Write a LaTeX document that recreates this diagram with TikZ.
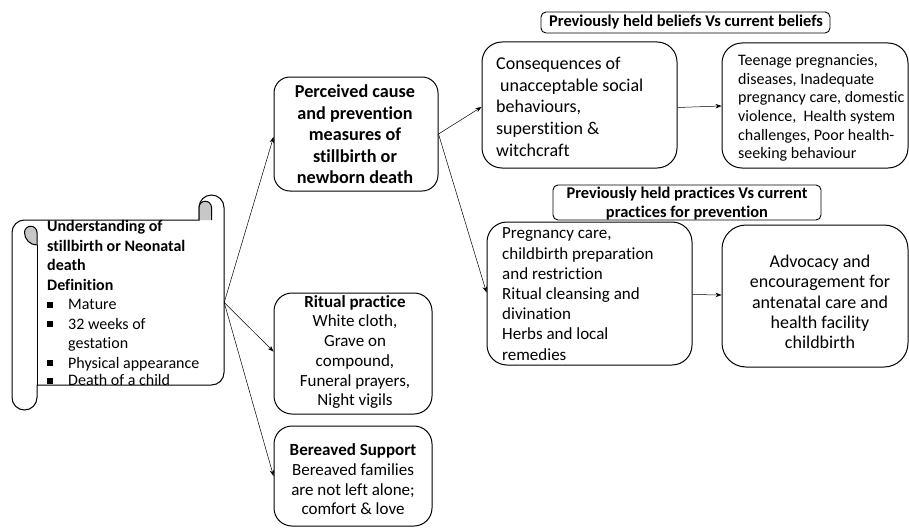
\documentclass[tikz,border=0pt]{standalone}
\usepackage{fontspec}
\setmainfont{Carlito}[Ligatures=NoCommon]
\usetikzlibrary{arrows.meta}
\newcommand{\sqbul}{\makebox[21pt][l]{\raisebox{2pt}{\rule{6pt}{6pt}}}}
\begin{document}
\begin{tikzpicture}[x=1pt,y=1pt,
  box/.style={draw=black, line width=1pt, rounded corners=18pt, inner sep=0pt},
  hdr/.style={draw=black, line width=0.9pt, rounded corners=5pt, inner sep=0pt},
  txt/.style={inner sep=0pt},
  arr/.style={-{Stealth[length=6pt,width=4.5pt]}, line width=0.5pt},
]
\useasboundingbox (0,0) rectangle (909,-527);

% ---------- scroll ----------
\node[minimum width=212pt, minimum height=215pt, inner sep=0pt] (scroll) at (118,-302.5) {};
\draw[line width=1pt, fill=white]
  (12,-232.5) arc[start angle=180, end angle=90, radius=12.5pt]
  -- (199,-220) -- (199,-207.5)
  arc[start angle=180, end angle=0, radius=12.5pt]
  -- (224,-372.5)
  arc[start angle=0, end angle=-90, radius=12.5pt]
  -- (37,-385) -- (37,-397.5)
  arc[start angle=0, end angle=-180, radius=12.5pt]
  -- cycle;
\draw[line width=1pt, fill=black!22]
  (199,-220) -- (199,-207.5)
  arc[start angle=180, end angle=0, radius=6.25pt]
  -- (211.5,-220);
\draw[line width=1pt, fill=black!22]
  (37,-245) -- (37,-232.5)
  arc[start angle=0, end angle=180, radius=6.25pt]
  arc[start angle=180, end angle=270, radius=12.5pt];
\draw[line width=1pt] (37,-245) -- (37,-385);
\node[txt, anchor=north west, font=\fontsize{16}{19.5}\selectfont] (scrolltxt) at (47,-218)
  {\begin{tabular}{@{}l@{}}
   \textbf{Understanding of}\\\textbf{stillbirth or Neonatal}\\\textbf{death}\\\textbf{Definition}\\
   \sqbul Mature\\
   \sqbul 32 weeks of\\
   \makebox[21pt][l]{}gestation\\
   \sqbul Physical appearance\\[-2pt]
   \sqbul Death of a child
   \end{tabular}};

% ---------- middle column ----------
\node[box, rounded corners=16pt, minimum width=164pt, minimum height=114pt] (perc) at (356,-134) {};
\node[txt, align=center, font=\fontsize{18.2}{21.5}\selectfont\bfseries] (perct) at (355,-134.5)
  {Perceived cause\\and prevention\\measures of\\stillbirth or\\newborn death};

\node[box, minimum width=158pt, minimum height=121pt] (rit) at (353,-353.5) {};
\node[txt, align=center, font=\fontsize{17}{19.7}\selectfont] (ritt) at (355,-352)
  {\textbf{Ritual practice}\\White cloth,\\Grave on\\compound,\\Funeral prayers,\\Night vigils};

\node[box, minimum width=158pt, minimum height=100pt] (ber) at (353,-476) {};
\node[txt, align=center, font=\fontsize{17}{19.7}\selectfont] (bert) at (353,-479.5)
  {\textbf{Bereaved Support}\\Bereaved families\\are not left alone;\\comfort \& love};

% ---------- right part ----------
\node[hdr, minimum width=289pt, minimum height=21pt] (h1) at (685.5,-22.5) {};
\node[txt, font=\fontsize{16.4}{19}\selectfont\bfseries] (h1t) at (686,-22.5)
  {Previously held beliefs Vs current beliefs};

\node[box, rounded corners=20pt, minimum width=195pt, minimum height=126pt] (cons) at (579.5,-105) {};
\node[txt, anchor=west, font=\fontsize{18}{21.7}\selectfont] (const) at (496,-108.5)
  {\begin{tabular}{@{}l@{}}Consequences of\\\hspace*{4pt}unacceptable social\\behaviours,\\superstition \&\\witchcraft\end{tabular}};

\node[box, rounded corners=20pt, minimum width=186pt, minimum height=125pt] (teen) at (815,-105.5) {};
\node[txt, anchor=west, font=\fontsize{16}{18.7}\selectfont] (teent) at (738,-108.5)
  {\begin{tabular}{@{}l@{}}Teenage pregnancies,\\diseases, Inadequate\\pregnancy care, domestic\\violence,\ \ Health system\\challenges, Poor health-\\seeking behaviour\end{tabular}};

\node[hdr, minimum width=268pt, minimum height=35pt] (h2) at (687,-202.5) {};
\node[txt, align=center, font=\fontsize{16.4}{19}\selectfont\bfseries] (h2t) at (687,-203.5)
  {Previously held practices Vs current\\practices for prevention};

\node[box, rounded corners=20pt, minimum width=205pt, minimum height=143pt] (preg) at (589.5,-293.5) {};
\node[txt, anchor=west, font=\fontsize{17}{20.2}\selectfont] (pregt) at (502,-295.5)
  {\begin{tabular}{@{}l@{}}Pregnancy care,\\childbirth preparation\\and restriction\\Ritual cleansing and\\divination\\Herbs and local\\remedies\end{tabular}};

\node[box, rounded corners=24pt, minimum width=186pt, minimum height=142pt] (adv) at (815,-296) {};
\node[txt, align=center, font=\fontsize{18}{20.3}\selectfont] (advt) at (820,-302)
  {Advocacy and\\encouragement for\\antenatal care and\\health facility\\childbirth};

% ---------- connectors ----------
\draw[arr] (scroll.east) -- ([yshift=-3pt]perc.west);
\draw[arr] (scroll.east) -- ([yshift=2pt]rit.west);
\draw[arr] (scroll.east) -- (ber.west);
\draw[arr] (perc.east) -- ([yshift=-2pt]cons.west);
\draw[arr] (perc.east) -- ([yshift=1pt]preg.west);
\draw[arr] ([yshift=-2.5pt]cons.east) -- ([yshift=-0.5pt]teen.west);
\draw[arr] ([yshift=-1pt]preg.east) -- ([yshift=1pt]adv.west);
\end{tikzpicture}
\end{document}
